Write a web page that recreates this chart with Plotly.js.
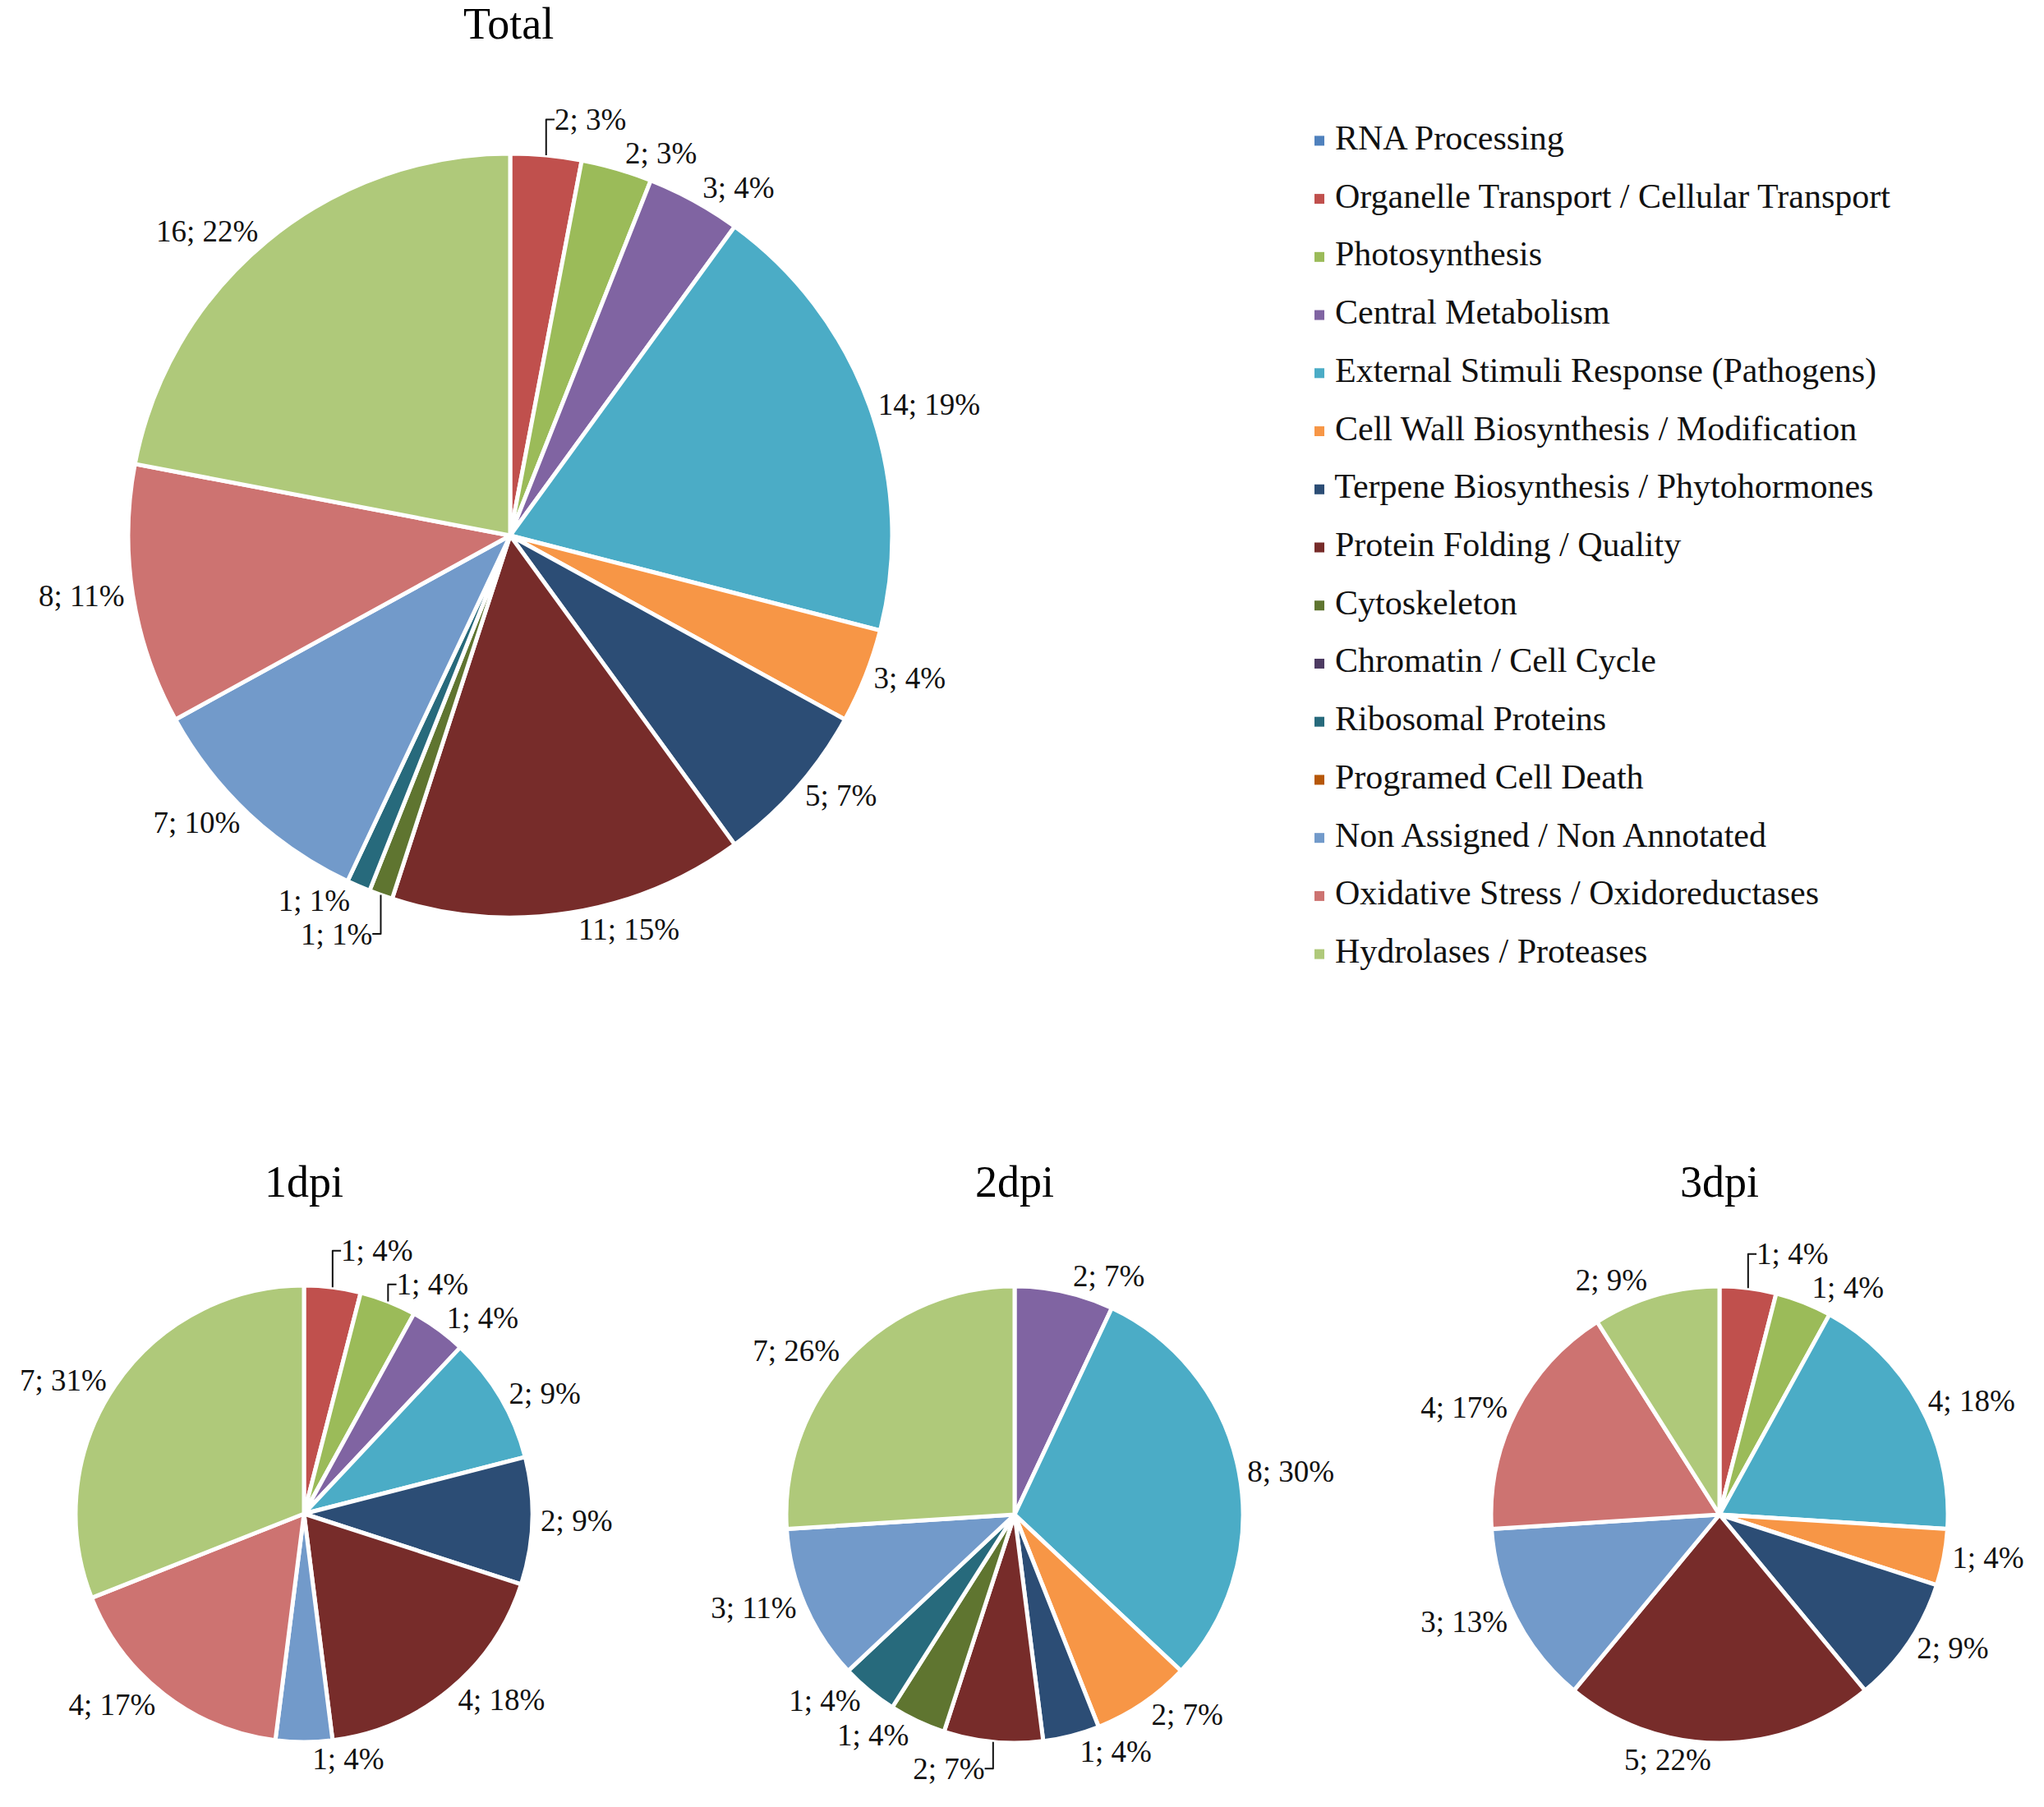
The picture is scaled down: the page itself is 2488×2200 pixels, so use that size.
<!DOCTYPE html>
<html><head><meta charset="utf-8">
<script src="https://cdn.plot.ly/plotly-3.0.1.min.js"></script>
<style>html,body{margin:0;padding:0;background:#fff}</style>
</head><body><div id="chart" style="width:2488px;height:2200px"></div>
<script>
const categories = [
  "RNA Processing",
  "Organelle Transport / Cellular Transport",
  "Photosynthesis",
  "Central Metabolism",
  "External Stimuli Response (Pathogens)",
  "Cell Wall Biosynthesis / Modification",
  "Terpene Biosynthesis / Phytohormones",
  "Protein Folding / Quality",
  "Cytoskeleton",
  "Chromatin / Cell Cycle",
  "Ribosomal Proteins",
  "Programed Cell Death",
  "Non Assigned / Non Annotated",
  "Oxidative Stress / Oxidoreductases",
  "Hydrolases / Proteases"
];
const colors = ["#4F81BD","#C0504D","#9BBB59","#8064A2","#4BACC6","#F79646","#2C4D75","#772C2A","#5F7530","#4D3B62","#276A7C","#B65708","#729ACA","#CD7371","#AFC97A"];

// counts and percentages per category (same order as categories)
const totalCounts = [0,2,2,3,14,3,5,11,1,0,1,0,7,8,16];
const totalPct    = [0,3,3,4,19,4,7,15,1,0,1,0,10,11,22];
const dpi1Counts  = [0,1,1,1,2,0,2,4,0,0,0,0,1,4,7];
const dpi1Pct     = [0,4,4,4,9,0,9,18,0,0,0,0,4,17,31];
const dpi2Counts  = [0,0,0,2,8,2,1,2,1,0,1,0,3,0,7];
const dpi2Pct     = [0,0,0,7,30,7,4,7,4,0,4,0,11,0,26];
const dpi3Counts  = [0,1,1,0,4,1,2,5,0,0,0,0,3,4,2];
const dpi3Pct     = [0,4,4,0,18,4,9,22,0,0,0,0,13,17,9];

const pieTitles = ["Total","1dpi","2dpi","3dpi"];

const W = 2488, H = 2200;
const FONT = "Liberation Serif";

function pieTrace(counts, pct, cx, cy, r, fontSize){
  const idx = categories.map((c,i)=>i).filter(i=>pct[i]>0);
  return {
    type:"pie", sort:false, direction:"clockwise", rotation:0,
    labels: idx.map(i=>categories[i]),
    values: idx.map(i=>pct[i]),
    customdata: idx.map(i=>counts[i]),
    texttemplate: "%{customdata}; %{value}%",
    textposition: "outside",
    outsidetextfont: {family: FONT, size: fontSize, color: "#111111"},
    marker: {colors: idx.map(i=>colors[i]), line:{color:"#ffffff", width:5}},
    domain: {x:[(cx-r)/W, (cx+r)/W], y:[1-(cy+r)/H, 1-(cy-r)/H]},
    showlegend:false, hoverinfo:"label+value"
  };
}

const traces = [
  pieTrace(totalCounts, totalPct, 621, 652, 465, 37),
  pieTrace(dpi1Counts, dpi1Pct, 370, 1843, 278, 37),
  pieTrace(dpi2Counts, dpi2Pct, 1235, 1844, 278, 37),
  pieTrace(dpi3Counts, dpi3Pct, 2093, 1844, 278, 37),
  {
    type:"scatter", mode:"markers+text",
    x: categories.map(()=>0), y: categories.map((c,i)=>i),
    text: categories.map(c=>" "+c), textposition:"middle right",
    textfont:{family: FONT, size: 42, color:"#111111"},
    marker:{symbol:"square", size:12, color: colors},
    cliponaxis:false, showlegend:false, hoverinfo:"text",
    xaxis:"x", yaxis:"y"
  }
];

const layout = {
  width: W, height: H,
  margin:{l:0,r:0,t:0,b:0},
  paper_bgcolor:"#ffffff", plot_bgcolor:"rgba(0,0,0,0)",
  showlegend:false,
  font:{family: FONT, color:"#111111"},
  xaxis:{domain:[1606/W, 1], range:[0,1], visible:false, fixedrange:true},
  yaxis:{domain:[1-1197/H, 1-136/H], range:[14.5,-0.5], visible:false, fixedrange:true},
  annotations: [
    {text: pieTitles[0], x:619/W, y:1-29/H},
    {text: pieTitles[1], x:370/W, y:1-1439/H},
    {text: pieTitles[2], x:1235/W, y:1-1439/H},
    {text: pieTitles[3], x:2093/W, y:1-1439/H}
  ].map(a=>Object.assign({xref:"paper", yref:"paper", showarrow:false, xanchor:"center", yanchor:"middle", font:{family:FONT, size:54, color:"#000"}}, a))
};

Plotly.newPlot("chart", traces, layout, {staticPlot:true});
</script>
</body></html>
